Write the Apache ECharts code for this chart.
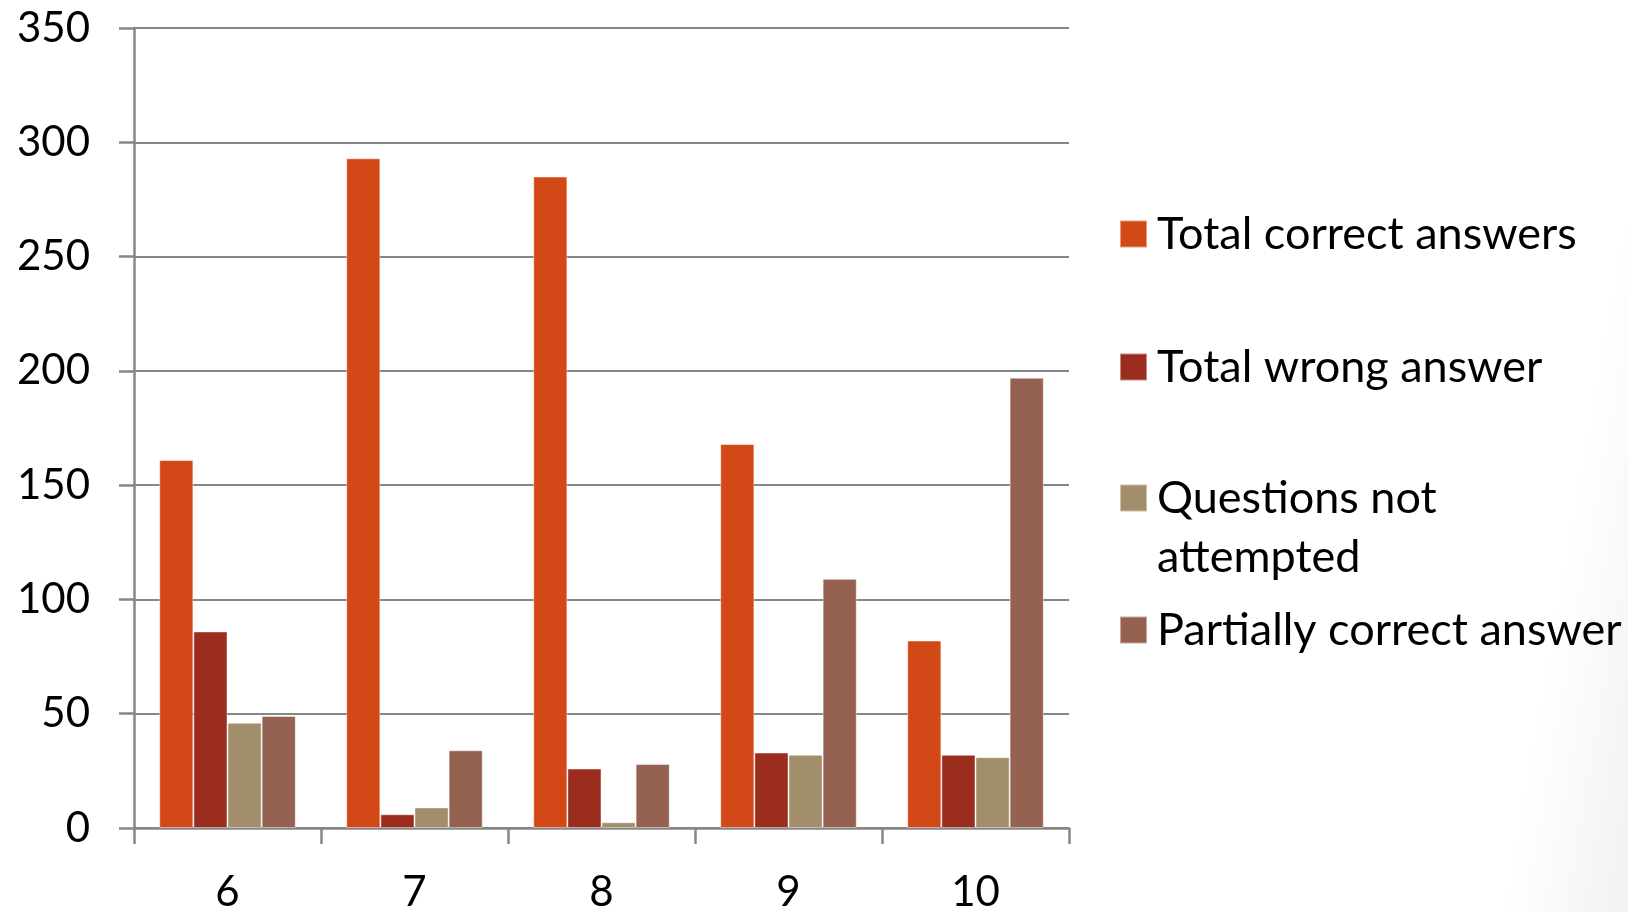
<!DOCTYPE html>
<html>
<head>
<meta charset="utf-8">
<script src="https://cdn.jsdelivr.net/npm/echarts@6/dist/echarts.min.js"></script>
<style>
html,body{margin:0;padding:0;background:#fff;}
#chart{width:1628px;height:912px;background:linear-gradient(100deg,#ffffff 0%,#ffffff 93%,#f1f1f1 100%);}
</style>
</head>
<body>
<div id="chart"></div>
<script>
const categories = ['6', '7', '8', '9', '10'];
const totalCorrect = [161, 293, 285, 168, 82];
const totalWrong = [86, 6, 26, 33, 32];
const notAttempted = [46, 9, 2.5, 32, 31];
const partiallyCorrect = [49, 34, 28, 109, 197];
const seriesNames = ['Total correct answers', 'Total wrong answer', 'Questions not attempted', 'Partially correct answer'];
const seriesColors = ['#D34817', '#9B2D1F', '#A28E6A', '#956251'];
const yTicks = [0, 50, 100, 150, 200, 250, 300, 350];

const FONT = 'Lato';
const LEGEND_FS = 45;
const chart = echarts.init(document.getElementById('chart'));

function legendFor(i, top, extra) {
  return Object.assign({
    data: [seriesNames[i]],
    orient: 'vertical',
    left: 1119,
    top: top,
    padding: 0,
    itemWidth: 27,
    itemHeight: 27,
    icon: 'rect',
    selectedMode: false,
    textStyle: { fontFamily: FONT, fontSize: LEGEND_FS, color: '#000', padding: [0, 0, 0, 5] }
  }, extra || {});
}

const allSeries = [totalCorrect, totalWrong, notAttempted, partiallyCorrect].map((d, i) => ({
  name: seriesNames[i],
  type: 'bar',
  data: d,
  barGap: '0%',
  barCategoryGap: '27%',
  itemStyle: { color: seriesColors[i], borderColor: 'rgba(255,255,255,0.45)', borderWidth: 1 },
  emphasis: { disabled: true }
}));

chart.setOption({
  backgroundColor: 'transparent',
  animation: false,
  grid: { left: 134, right: 559, top: 28, bottom: 84, containLabel: false, outerBoundsMode: 'none' },
  legend: [
    legendFor(0, 211.5),
    legendFor(1, 344.5),
    legendFor(2, 468.5, {
      icon: 'path://M0,0L27,0L27,27L0,27Z M0,86L0.01,86L0,86Z',
      itemHeight: 86,
      formatter: n => 'Questions not\nattempted',
      textStyle: { fontFamily: FONT, fontSize: LEGEND_FS, color: '#000', lineHeight: 59, padding: [0, 0, 0, 5] }
    }),
    legendFor(3, 607.5)
  ],
  xAxis: {
    type: 'category',
    data: categories,
    axisLine: { lineStyle: { color: '#868686', width: 2.5 } },
    axisTick: { show: true, length: 16, lineStyle: { color: '#868686', width: 2.5 } },
    axisLabel: { fontFamily: FONT, fontSize: 42, color: '#000', margin: 43 },
    splitLine: { show: false }
  },
  yAxis: {
    type: 'value',
    min: 0, max: 350, interval: 50,
    axisLine: { show: true, lineStyle: { color: '#868686', width: 2.5 } },
    axisTick: { show: true, length: 15, lineStyle: { color: '#868686', width: 2.5 } },
    axisLabel: { fontFamily: FONT, fontSize: 42, color: '#000', margin: 44,
      formatter: v => yTicks.includes(v) ? String(v) : '' },
    splitLine: { show: true, lineStyle: { color: '#868686', width: 2 } }
  },
  series: allSeries
});
</script>
</body>
</html>
